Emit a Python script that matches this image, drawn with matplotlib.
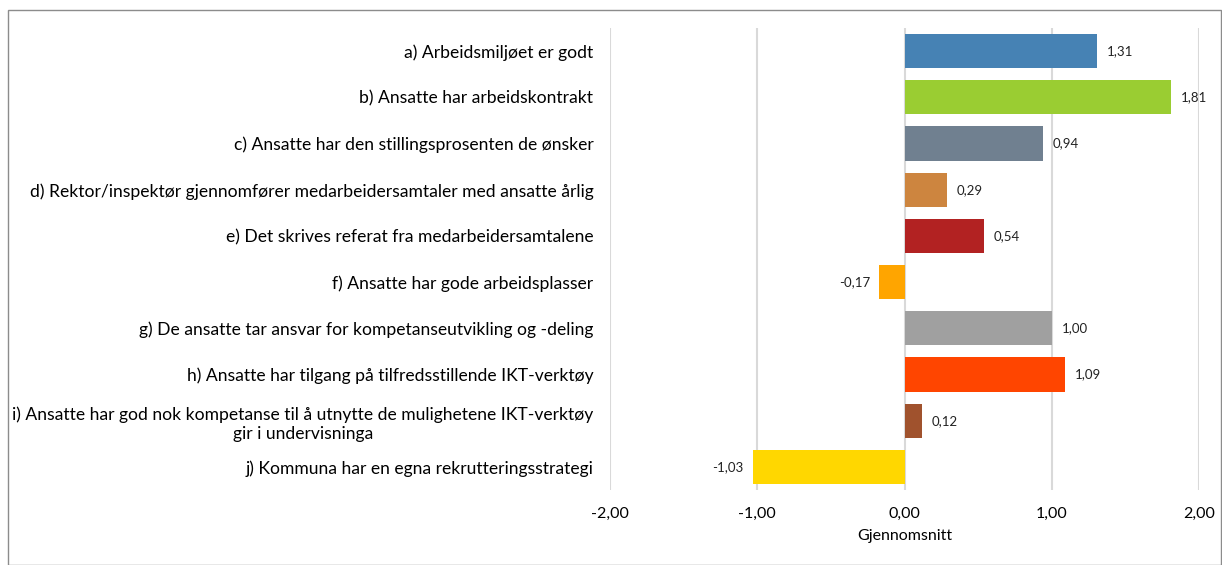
import matplotlib
matplotlib.use("Agg")
import matplotlib.pyplot as plt
from matplotlib.patches import Rectangle

# data
labels = [
    "a) Arbeidsmiljøet er godt",
    "b) Ansatte har arbeidskontrakt",
    "c) Ansatte har den stillingsprosenten de ønsker",
    "d) Rektor/inspektør gjennomfører medarbeidersamtaler med ansatte årlig",
    "e) Det skrives referat fra medarbeidersamtalene",
    "f) Ansatte har gode arbeidsplasser",
    "g) De ansatte tar ansvar for kompetanseutvikling og -deling",
    "h) Ansatte har tilgang på tilfredsstillende IKT-verktøy",
    "i) Ansatte har god nok kompetanse til å utnytte de mulighetene IKT-verktøy\ngir i undervisninga",
    "j) Kommuna har en egna rekrutteringsstrategi",
]
values = [1.31, 1.81, 0.94, 0.29, 0.54, -0.17, 1.00, 1.09, 0.12, -1.03]
colors = ["#4682B4", "#9ACD32", "#708090", "#CD853F", "#B22222",
          "#FFA500", "#A0A0A0", "#FF4500", "#A0522D", "#FFD700"]
xticks = [-2, -1, 0, 1, 2]

plt.rcParams["font.family"] = ["Lato", "DejaVu Sans"]

fig = plt.figure(figsize=(12.22, 5.65), dpi=100)
ax = fig.add_axes([0.4992, 0.1327, 0.4820, 0.8177])

ypos = list(range(len(labels)))
ax.barh(ypos, values, height=0.74, color=colors, zorder=3)

for y, v in zip(ypos, values):
    txt = f"{v:.2f}".replace(".", ",")
    if v >= 0:
        ax.annotate(txt, (v, y), xytext=(7, 0), textcoords="offset points",
                    ha="left", va="center", fontsize=9.5, color="#222222")
    else:
        ax.annotate(txt, (v, y), xytext=(-7, 0), textcoords="offset points",
                    ha="right", va="center", fontsize=9.5, color="#222222")

ax.set_xlim(-2, 2)
ax.set_ylim(len(labels) - 0.5, -0.5)
ax.set_xticks(xticks)
ax.set_xticklabels([f"{t:.2f}".replace(".", ",") for t in xticks], fontsize=11.5)
ax.set_yticks(ypos)
ax.set_yticklabels(labels, fontsize=12.6, ha="right", multialignment="center",
                   linespacing=1.3)
ax.tick_params(axis="both", length=0)
ax.tick_params(axis="y", pad=12)
ax.tick_params(axis="x", pad=12)
ax.xaxis.grid(True, color="#d9d9d9", linewidth=1.5, zorder=0)
ax.set_axisbelow(True)
for s in ax.spines.values():
    s.set_visible(False)
ax.set_xlabel("Gjennomsnitt", fontsize=11.5, labelpad=6)

# outer border
fig.patches.append(Rectangle((8 / 1222, 0), 1213 / 1222, 555 / 565,
                             transform=fig.transFigure, fill=False,
                             edgecolor="#8c8c8c", linewidth=1.0))

fig.savefig("out.png", dpi=100)
